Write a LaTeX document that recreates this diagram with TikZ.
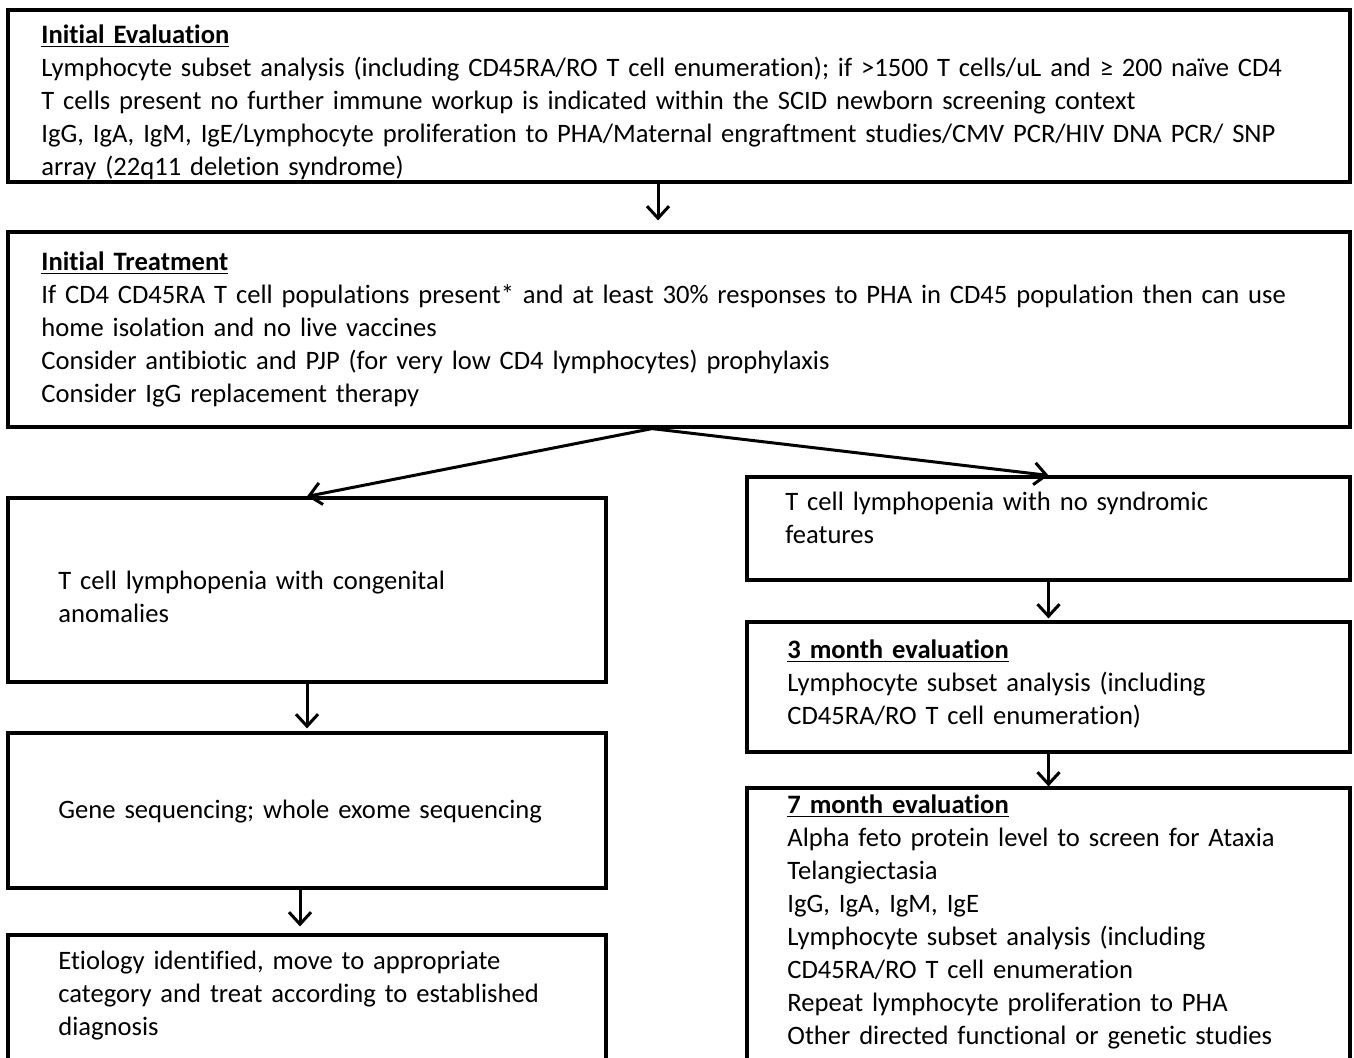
\documentclass[tikz,border=0pt]{standalone}
\usepackage{fontspec}
\setmainfont{Carlito}[Ligatures=NoCommon, WordSpace=0.9]
\usetikzlibrary{arrows.meta}
\tikzstyle{block} = [rectangle, draw, line width=1.6pt, inner sep=0pt]
\tikzstyle{txt} = [anchor=north west, inner sep=0pt, align=left, text width=660pt,
    font=\fontsize{13.3}{16.5}\selectfont, execute at begin node=\strut]
\tikzstyle{arrow} = [line width=1.5pt,-{Straight Barb[length=6pt,width=11pt,line width=1.5pt]}]
\newcommand{\heading}[1]{\underline{\textbf{#1}}}

\begin{document}
\begin{tikzpicture}[x=0.5pt, y=-0.5pt]
    \useasboundingbox (0,0) rectangle (1354,1057);
    % Place boxes
    \node [block, minimum width=671pt, minimum height=86pt] (eval) at (679,96) {};
    \node [block, minimum width=671pt, minimum height=97.5pt] (treat) at (679,329.5) {};
    \node [block, minimum width=299pt, minimum height=92pt] (cong) at (307,590) {};
    \node [block, minimum width=299pt, minimum height=77.5pt] (gene) at (307,810.5) {};
    \node [block, minimum width=299pt, minimum height=72.5pt] (etio) at (307,1007.5) {};
    \node [block, minimum width=301.5pt, minimum height=51.5pt] (nosyn) at (1048.5,528.5) {};
    \node [block, minimum width=301.5pt, minimum height=65pt] (three) at (1048.5,687) {};
    \node [block, minimum width=301.5pt, minimum height=146pt] (seven) at (1048.5,934) {};
    % Place texts
    \node [txt] (evaltext) at (41,19.5) {\heading{Initial Evaluation}\\
        Lymphocyte subset analysis (including CD45RA/RO T cell enumeration); if >1500 T cells/uL and ≥ 200 naïve CD4\\
        T cells present no further immune workup is indicated within the SCID newborn screening context\\
        IgG, IgA, IgM, IgE/Lymphocyte proliferation to PHA/Maternal engraftment studies/CMV PCR/HIV DNA PCR/ SNP\\
        array (22q11 deletion syndrome)};
    \node [txt] (treattext) at (41,246.5) {\heading{Initial Treatment}\\
        If CD4 CD45RA T cell populations present* and at least 30\% responses to PHA in CD45 population then can use\\
        home isolation and no live vaccines\\
        Consider antibiotic and PJP (for very low CD4 lymphocytes) prophylaxis\\
        Consider IgG replacement therapy};
    \node [txt] (congtext) at (58,565.5) {T cell lymphopenia with congenital\\anomalies};
    \node [txt] (genetext) at (58,794.5) {Gene sequencing; whole exome sequencing};
    \node [txt] (etiotext) at (58,945.5) {Etiology identified, move to appropriate\\
        category and treat according to established\\diagnosis};
    \node [txt] (nosyntext) at (785,486.5) {T cell lymphopenia with no syndromic\\features};
    \node [txt] (threetext) at (787,634.5) {\heading{3 month evaluation}\\
        Lymphocyte subset analysis (including\\CD45RA/RO T cell enumeration)};
    \node [txt] (seventext) at (787,789.5) {\heading{7 month evaluation}\\
        Alpha feto protein level to screen for Ataxia\\Telangiectasia\\IgG, IgA, IgM, IgE\\
        Lymphocyte subset analysis (including\\CD45RA/RO T cell enumeration\\
        Repeat lymphocyte proliferation to PHA\\Other directed functional or genetic studies};
    % Draw edges
    \draw [arrow, shorten >=5pt] ([xshift=-10.5pt]eval.south) -- ([xshift=-10.5pt]treat.north);
    \draw [arrow] ([xshift=-13.5pt]treat.south) -- (cong.north);
    \draw [arrow] ([xshift=-13.5pt]treat.south) -- (nosyn.north);
    \draw [arrow, shorten >=1pt] (nosyn.south) -- (three.north);
    \draw [arrow] (three.south) -- (seven.north);
    \draw [arrow, shorten >=1.5pt] (cong.south) -- (gene.north);
    \draw [arrow, shorten >=3.5pt] ([xshift=-3.5pt]gene.south) -- ([xshift=-3.5pt]etio.north);
\end{tikzpicture}
\end{document}
